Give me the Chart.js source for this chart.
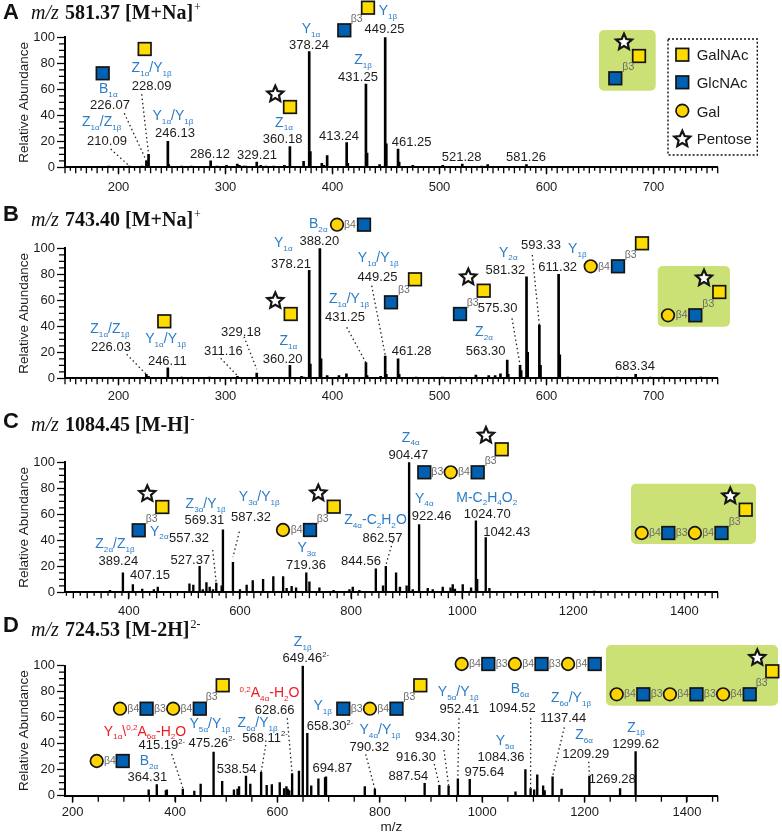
<!DOCTYPE html>
<html>
<head>
<meta charset="utf-8">
<title>MS/MS spectra</title>
<script src="https://cdn.jsdelivr.net/npm/chart.js@4"></script>
<style>
  html, body { margin: 0; padding: 0; background: #fff; }
  #page { position: relative; width: 782px; height: 835px; overflow: hidden; }
  canvas { position: absolute; left: 0; }
</style>
</head>
<body>
<div id="page"></div>
<script>
// peaks: m/z and relative abundance
var mzA = [191,210.09,222,226.07,228.09,246.13,247,259,268,286.12,292,301,311,313,317,319,329.21,333,338,345,355,360.18,373,378.24,379.3,390,392,395,413.24,414.3,431.25,432.3,444,449.25,450.3,461.25,462.3,475,503,521.28,539,545,581.26];
var abundanceA = [1,1,1,5,10,20,2,1,1,5,1,1.5,2.5,1.5,1,1,4,1.5,1,1,1.5,16,4.5,89,12,3,1.5,9,19,3,64,11,2,100,18,14,4,1.5,1.5,2.5,1,2,2];

var mzB = [226.03,228,246.11,259,285,311.16,329.18,360.2,371,373,378.21,379.3,388.2,389.3,395,406,413,431.25,432.3,445,449.25,450.3,461.28,462.3,478,503,519,534,546,552,557,563.3,564.3,575.3,576.3,581.32,582.4,593.33,594.4,611.32,612.4,620,666,683.34,697,708,744];
var abundanceB = [3,1.5,8,1,1,1.5,4,10,1.5,1,83,11,100,15,2,2,3.5,12,2,1.5,17,3,15,3,1,1,1,2.5,2,2,3.5,14,3,10,6,78,20,41,10,80,18,1,1,3,1,1,1];

var mzC = [366,389.24,407.15,424,445,452,509,516,527.37,533,539.6,545.5,551.5,557.32,567,569.31,587.32,600,612,623,641.6,660,677.7,684,693,701,719.36,725,743,768.5,797,803,815,844.56,857.5,862.57,881,888,900,904.47,911,922.46,938,947,965,979,983,987,1001,1016,1024.7,1027,1042.43,1049,1238];
var abundanceC = [1.5,15,6,2.5,2,4,6.5,5.5,20,2,7.5,4,2,7,5,48,23,2,5.5,9,10,12,12,3,4.5,3.5,15,8,3.5,1.5,2,4,1.5,18,5,20,15,4,5,100,2,52,3,2,4,3.5,6,2.5,6,3.5,55,10,42,3,1];

var mzD = [348.5,364.31,382,384,415.19,437.6,450,475.26,492,515,522,525,538.54,547,568.11,579,589,604.5,613,617.5,620,623,628.66,642,649.46,658.3,666,680,693,694.87,770.6,790.32,887.54,916.3,934.3,952.41,975.64,1065,1084.36,1094.52,1101.5,1107.5,1119,1122,1137.44,1155,1209.29,1269.28,1299.62];
var abundanceD = [4.5,8.5,4,4.5,5,3.5,9,33.5,11,4.5,5,7,15,9,18,8,8.5,10,5.5,7,5,4,17,19,100,48,7.5,13,14,14.5,7,5,9.5,8,7.5,13,12.5,3,20,5.5,4.5,16,7.5,4,14.5,5,15,5.5,34];

// title text
var titleIons = ['581.37 [M+Na]', '743.40 [M+Na]', '1084.45 [M-H]', '724.53 [M-2H]'];
var titleCharges = ['+', '+', '-', '2-'];
var panelLetters = ['A', 'B', 'C', 'D'];
var legendNames = ['GalNAc', 'GlcNAc', 'Gal', 'Pentose'];

var BLUE = '#2a7cc7', RED = '#ed1c24', INK = '#1c1c1c', GREY = '#6a6a6a';

// text on the figure: [markup, centre x, baseline y, colour]
var labelsA = [
  ['Y_{1α}',311,33,BLUE],['378.24',309,48.7],['Y_{1β}',388,15,BLUE],['449.25',384.5,33],['Z_{1β}',363,64,BLUE],['431.25',358,81],
  ['413.24',339,140],['461.25',411.7,146],['521.28',461.7,160.7],['581.26',526,160.7],['329.21',257,159],['286.12',210,158],
  ['Z_{1α}',284,126.7,BLUE],['360.18',282.7,143],['Y_{1α}/Y_{1β}',173,120,BLUE],['246.13',175,137],['Z_{1α}/Z_{1β}',101.7,126,BLUE],
  ['210.09',107,145],['B_{1α}',108.3,93.3,BLUE],['226.07',110,108.7],['Z_{1α}/Y_{1β}',151.7,72,BLUE],['228.09',151.7,90]
];
var labelsB = [
  ['B_{2α}',318.3,228.3,BLUE],['388.20',319.3,245],['Y_{1α}',283.3,247.3,BLUE],['378.21',291,268.3],['Y_{1α}/Y_{1β}',378.3,262,BLUE],['449.25',377.5,280.7],
  ['Z_{1α}/Y_{1β}',349,303.3,BLUE],['431.25',345,320.7],['461.28',411.7,355],['Z_{1α}',288.3,345,BLUE],['360.20',282.7,363.3],['329.18',241,336],
  ['311.16',223.3,355],['246.11',167.3,365],['Y_{1α}/Y_{1β}',165.7,343.3,BLUE],['Z_{1α}/Z_{1β}',110,333.3,BLUE],['226.03',111,351],
  ['575.30',497.7,311.7],['Z_{2α}',484,336,BLUE],['563.30',485.7,355],['Y_{2α}',508.3,256.7,BLUE],['581.32',505.3,274],['593.33',541,249],
  ['Y_{1β}',577.3,253.3,BLUE],['611.32',557.7,271],['683.34',635,370]
];
var labelsC = [
  ['Y_{2α}',159.3,535.7,BLUE],['557.32',189,542.3],['Z_{2α}/Z_{1β}',115,548.3,BLUE],['389.24',118.3,565],['407.15',150,579],['527.37',190.3,563.7],
  ['Z_{3α}/Y_{1β}',205.7,508.3,BLUE],['569.31',204.3,524],['Y_{3α}/Y_{1β}',259.3,501,BLUE],['587.32',251,520.7],['Y_{3α}',306.7,552.3,BLUE],['719.36',306,569.3],
  ['844.56',361,565],['Z_{4α}-C_{2}H_{2}O',375.5,524,BLUE],['862.57',382.5,541.7],['Z_{4α}',410.7,441.7,BLUE],['904.47',408.3,459],['Y_{4α}',424.3,502.7,BLUE],
  ['922.46',431.7,520],['M-C_{2}H_{4}O_{2}',486.7,501.7,BLUE],['1024.70',487.3,518.3],['1042.43',506.7,535.7]
];
var labelsD = [
  ['Z_{1β}',302.7,646,BLUE],['649.46^{2-}',305.8,662.3],['^{0,2}A_{4α}-H_{2}O',269.5,697.3,RED],['628.66',274.7,714.3],['Y_{1β}',322.7,710,BLUE],['658.30^{2-}',330,730],
  ['Y_{4α}/Y_{1β}',380,734,BLUE],['790.32',369.3,750.7],['694.87',332.3,771.7],['538.54',236.7,772.7],['568.11^{2-}',265,741.7],['Z_{6α}/Y_{1β}',257.7,727.3,BLUE],
  ['Y_{5α}/Y_{1β}',210,728.3,BLUE],['475.26^{2-}',211.7,746.7],['Y_{1α}\\^{0,2}A_{6α}-H_{2}O',145,735.7,RED],['415.19^{2-}',161.7,749.3],['B_{2α}',149,765,BLUE],['364.31',147.3,781],
  ['Y_{5α}/Y_{1β}',458.3,696,BLUE],['952.41',459.3,712.7],['934.30',435,740.7],['916.30',416,760.7],['887.54',408.3,780],['975.64',484.3,776],['Y_{5α}',505,745,BLUE],
  ['1084.36',501,760.7],['B_{6α}',520,693.3,BLUE],['1094.52',512.3,711.7],['Z_{6α}/Y_{1β}',571,702.3,BLUE],['1137.44',563.3,722.3],['Z_{6α}',584,739,BLUE],
  ['1209.29',585.7,758.3],['1269.28',612.3,783.3],['Z_{1β}',636,731.7,BLUE],['1299.62',635.7,747.7]
];

// dotted leaders: start x, start y on the page, then the peak it points at (m/z, abundance)
var leadersA = [[110.7,149,210.09,1],[124.3,113.3,226.07,5],[141.7,94.3,228.09,10]];
var leadersB = [[126.7,354.3,226.03,3],[220.7,358.3,311.16,2],[244,336.7,329.18,7],[346.7,327.3,431.25,12],[371.7,285.7,449.25,18],[512,318.3,575.3,10],[532.3,255,593.33,41]];
var leadersC = [[212.7,550,557.32,7],[239.3,531.7,587.32,27],[392.7,541.7,862.57,21]];
var leadersD = [[171.7,754,415.19,6],[265.7,745,568.11,18],[287.3,718.3,628.66,17],[365.7,754.3,790.32,5],[434.3,764,916.3,8],[444,750,934.3,8],[459,718.3,952.41,14],[530.7,718.3,1094.52,6],[564.3,727.3,1137.44,15],[588.7,761.7,1209.29,16]];

// sugar symbols: [kind, x, y]  N GlcNAc, A GalNAc, G Gal, P pentose; b = linkage text
var row = function (y, start, items) {
  return items.map(function (k, i) { return [k, start + i * 13.3, y + (k.charAt(0) === 'b' ? 3 : 0)]; });
};
var glycansA = [
  ['N',102.7,73.3],['A',144.7,49],['P',275.3,93.7],['A',290,107],['N',344.3,30.3],['b3',356.7,21.7],['A',368,7.7]
];
var glycansB = [
  ['G',337,224.7],['b4',350,227.7],['N',364,224.7],['P',275.3,300.3],['A',290.7,314],['A',164.3,321.3],
  ['N',391,302.3],['b3',404,293],['A',415,279.3],['P',468.3,276.7],['A',483.7,290.7],['N',460,314],['b3',472.7,305.7],
  ['G',590.7,266.3],['b4',604,269.7],['N',618,266.3],['b3',630.7,258.3],['A',642,243.3]
];
var glycansC = [
  ['P',147.3,493.3],['A',162.3,507],['N',138.7,530.3],['b3',151.7,522.3],
  ['P',318.3,492.7],['A',333.7,506.7],['N',310,530],['b3',322.7,522.3],['G',283,530],['b4',296.7,533],
  ['P',486,435],['A',501.7,449.3],['N',477.7,472.3],['b3',490.7,464.3],['G',450.7,472.3],['b4',464,475.3],['N',424.3,472.3],['b3',437.3,475.3]
];
var glycansD = [
  ['G',96.7,761],['b4',110,764],['N',122.7,761]
].concat(row(708.7, 120, ['G','b4','N','b3','G','b4','N'])).concat([
  ['b3',211.7,700],['A',222.7,685.3]
]).concat(row(708.7, 343.3, ['N','b3','G','b4','N'])).concat([
  ['b3',409.3,700],['A',420.3,685.3]
]).concat(row(664, 461.7, ['G','b4','N','b3','G','b4','N','b3','G','b4','N']));

// the pale green boxes with the intact glycan: x, y, w, h, then symbols
var boxesA = [[599,30,56.7,60.7,[['P',624,41.7],['A',639,56],['N',615.3,78.3],['b3',628.3,70]]]];
var boxesB = [[657.7,266,72.3,60.7,[['P',704,277.7],['A',719.3,292],['G',668,315.3],['b4',681.7,318.3],['N',695.3,315.3],['b3',708.3,306.7]]]];
var boxesC = [[631,483.7,125,60.3,[['P',730.3,495.7],['A',745.7,509.7]].concat(row(533,641.7,['G','b4','N','b3','G','b4','N'])).concat([['b3',734.7,525]])]];
var boxesD = [[606,645,172,60.7,[['P',757.3,657.3],['A',772.3,671.3]].concat(row(694.3,616.7,['G','b4','N','b3','G','b4','N','b3','G','b4','N'])).concat([['b3',761.7,686]])]];

function drawSymbol(ctx, kind, x, y) {
  ctx.save();
  if (kind === 'b3' || kind === 'b4') {
    ctx.fillStyle = GREY;
    ctx.font = '10.5px "Liberation Sans"';
    ctx.textAlign = 'center';
    ctx.textBaseline = 'alphabetic';
    ctx.fillText('β' + kind.charAt(1), x, y);
    ctx.restore();
    return;
  }
  ctx.strokeStyle = '#141414';
  ctx.lineWidth = 1.7;
  if (kind === 'N' || kind === 'A') {
    ctx.fillStyle = kind === 'N' ? '#0061b2' : '#ffdc00';
    ctx.fillRect(x - 6.3, y - 6.3, 12.6, 12.6);
    ctx.strokeRect(x - 6.3, y - 6.3, 12.6, 12.6);
  } else if (kind === 'G') {
    ctx.fillStyle = '#ffd400';
    ctx.beginPath();
    ctx.arc(x, y, 6.3, 0, Math.PI * 2);
    ctx.fill();
    ctx.stroke();
  } else {
    ctx.fillStyle = '#fff';
    ctx.lineWidth = 2.2;
    ctx.lineJoin = 'miter';
    ctx.beginPath();
    for (var i = 0; i < 10; i++) {
      var r = i % 2 ? 3.9 : 8.4;
      var a = -Math.PI / 2 + i * Math.PI / 5;
      ctx.lineTo(x + r * Math.cos(a), y + 0.5 + r * Math.sin(a));
    }
    ctx.closePath();
    ctx.fill();
    ctx.stroke();
  }
  ctx.restore();
}

// very small markup: _{sub} and ^{sup}
function parseRich(str) {
  var out = [], re = /([_^])\{([^}]*)\}|([^_^]+)/g, m;
  while ((m = re.exec(str))) {
    if (m[1]) out.push({ t: m[2], mode: m[1] });
    else out.push({ t: m[3], mode: '' });
  }
  return out;
}

function drawRich(ctx, str, cx, y, color, size) {
  var parts = parseRich(str), total = 0;
  parts.forEach(function (p) {
    p.size = p.mode ? size * 0.58 : size;
    ctx.font = p.size + 'px "Liberation Sans"';
    p.w = ctx.measureText(p.t).width;
    total += p.w;
  });
  var x = cx - total / 2;
  ctx.textAlign = 'left';
  ctx.textBaseline = 'alphabetic';
  ctx.fillStyle = color;
  parts.forEach(function (p) {
    ctx.font = p.size + 'px "Liberation Sans"';
    var dy = p.mode === '_' ? 3.5 : p.mode === '^' ? -5.5 : 0;
    ctx.fillText(p.t, x, y + dy);
    x += p.w;
  });
}

function drawTitle(ctx, p) {
  ctx.textAlign = 'left';
  ctx.textBaseline = 'alphabetic';
  ctx.fillStyle = '#111';
  ctx.font = 'bold 22px "Liberation Sans"';
  ctx.fillText(p.letter, 3, p.letterY);
  ctx.font = 'italic 20px "Liberation Serif"';
  ctx.fillText('m/z', 31, p.titleY);
  ctx.font = 'bold 20px "Liberation Serif"';
  ctx.fillText(p.ion, 65, p.titleY);
  var w = ctx.measureText(p.ion).width;
  ctx.font = '12px "Liberation Serif"';
  ctx.fillText(p.charge, 65 + w + 1, p.titleY - 8);
}

function drawLegend(ctx) {
  ctx.save();
  ctx.strokeStyle = '#111';
  ctx.lineWidth = 1.4;
  ctx.setLineDash([2, 2]);
  ctx.strokeRect(668, 39, 89.3, 116);
  ctx.restore();
  var kinds = ['A', 'N', 'G', 'P'], ys = [54.7, 82.3, 110.7, 138.7], bases = [60.3, 88, 116.7, 144.3];
  legendNames.forEach(function (name, i) {
    drawSymbol(ctx, kinds[i], 682.3, ys[i]);
    ctx.fillStyle = INK;
    ctx.font = '15px "Liberation Sans"';
    ctx.textAlign = 'left';
    ctx.fillText(name, 696.7, bases[i]);
  });
}

// small in-between ticks the axis itself has no option for
function drawExtraTicks(chart, p) {
  var ctx = chart.ctx, xs = chart.scales.x, ys = chart.scales.y;
  var y0 = ys.getPixelForValue(0), x0 = xs.left;
  ctx.save();
  ctx.strokeStyle = '#000';
  ctx.lineWidth = 1.3;
  ctx.beginPath();
  function xTick(step, len) {
    for (var v = Math.ceil(p.xMin / step) * step; v <= p.xMax; v += step) {
      var px = xs.getPixelForValue(v);
      ctx.moveTo(px, y0);
      ctx.lineTo(px, y0 + len);
    }
  }
  if (p.minorStep) xTick(p.minorStep, 3.5);
  xTick(p.midStep, 6);
  var endPx = xs.getPixelForValue(p.xMax);
  ctx.moveTo(endPx, y0);
  ctx.lineTo(endPx, y0 + 6);
  for (var v = 5; v < 100; v += 5) {
    if (v % 20 === 0) continue;
    var py = ys.getPixelForValue(v);
    ctx.moveTo(x0, py);
    ctx.lineTo(x0 - 6, py);
  }
  ctx.stroke();
  ctx.restore();
}

function overlayPlugin(p) {
  return {
    id: 'overlay' + p.letter,
    afterDraw: function (chart) {
      var ctx = chart.ctx, xs = chart.scales.x, ys = chart.scales.y;
      drawExtraTicks(chart, p);
      ctx.save();
      ctx.translate(0, -p.top);
      p.boxes.forEach(function (b) {
        ctx.fillStyle = '#cbe175';
        ctx.beginPath();
        ctx.roundRect(b[0], b[1], b[2], b[3], 5);
        ctx.fill();
        b[4].forEach(function (s) { drawSymbol(ctx, s[0], s[1], s[2]); });
      });
      p.glycans.forEach(function (s) { drawSymbol(ctx, s[0], s[1], s[2]); });
      ctx.save();
      ctx.strokeStyle = '#222';
      ctx.lineWidth = 1.3;
      ctx.setLineDash([1.5, 2.8]);
      p.leaders.forEach(function (l) {
        ctx.beginPath();
        ctx.moveTo(l[0], l[1]);
        ctx.lineTo(xs.getPixelForValue(l[2]), ys.getPixelForValue(l[3]) + p.top);
        ctx.stroke();
      });
      ctx.restore();
      p.labels.forEach(function (l) {
        drawRich(ctx, l[0], l[1], l[2], l[3] || INK, l[3] ? 14 : 13);
      });
      drawTitle(ctx, p);
      if (p.letter === 'A') drawLegend(ctx);
      ctx.restore();
    }
  };
}

function makePanel(p) {
  var canvas = document.createElement('canvas');
  canvas.width = 782;
  canvas.height = p.height;
  canvas.style.top = p.top + 'px';
  document.getElementById('page').appendChild(canvas);

  var points = p.mz.map(function (m, i) { return { x: m, y: p.abundance[i] }; });

  new Chart(canvas.getContext('2d'), {
    type: 'bar',
    data: { datasets: [{ data: points, backgroundColor: '#000', barThickness: p.barWidth }] },
    plugins: [overlayPlugin(p)],
    options: {
      responsive: false,
      animation: false,
      parsing: false,
      normalized: true,
      layout: { padding: { top: p.y100 - p.top, right: 782 - 717.7, left: 0, bottom: 0 } },
      plugins: { legend: { display: false }, tooltip: { enabled: false } },
      scales: {
        x: {
          type: 'linear',
          offset: false,
          min: p.xMin,
          max: p.xMax,
          border: { color: '#000', width: 2 },
          grid: { drawOnChartArea: false, offset: false, tickLength: 7, tickColor: '#000', tickWidth: 1.3 },
          title: { display: p.xTitle, text: 'm/z', color: INK, font: { size: 13.5 }, padding: { top: -2, bottom: 0 } },
          ticks: {
            color: INK,
            font: { size: 13 },
            padding: p.tickPad,
            autoSkip: false,
            maxRotation: 0,
            minRotation: 0,
            callback: function (value) { return String(value); }
          },
          afterBuildTicks: function (axis) {
            var list = [];
            for (var v = Math.ceil(p.xMin / p.labelStep) * p.labelStep; v <= p.xMax; v += p.labelStep) list.push({ value: v });
            axis.ticks = list;
          },
          afterFit: function (axis) { axis.height = p.top + p.height - p.y0; }
        },
        y: {
          min: 0,
          max: 100,
          border: { color: '#000', width: 2 },
          grid: { drawOnChartArea: false, tickLength: 8, tickColor: '#000', tickWidth: 1.3 },
          title: { display: true, text: 'Relative Abundance', color: INK, font: { size: 13.5 }, padding: { top: 16, bottom: 0 } },
          ticks: { stepSize: 20, color: INK, font: { size: 13 }, padding: 2 },
          afterFit: function (axis) { axis.width = 65; }
        }
      }
    }
  });
}

Chart.defaults.font.family = '"Liberation Sans", Arial, sans-serif';

var panels = [
  { letter: panelLetters[0], ion: titleIons[0], charge: titleCharges[0], mz: mzA, abundance: abundanceA, labels: labelsA, leaders: leadersA, glycans: glycansA, boxes: boxesA,
    top: 0, height: 200, y100: 37.3, y0: 167.3, letterY: 19, titleY: 19, xMin: 150, xMax: 760, labelStep: 100, midStep: 10, minorStep: 5, tickPad: 5, barWidth: 2, xTitle: false },
  { letter: panelLetters[1], ion: titleIons[1], charge: titleCharges[1], mz: mzB, abundance: abundanceB, labels: labelsB, leaders: leadersB, glycans: glycansB, boxes: boxesB,
    top: 195, height: 215, y100: 248.3, y0: 378.3, letterY: 221, titleY: 225.7, xMin: 150, xMax: 760, labelStep: 100, midStep: 10, minorStep: 5, tickPad: 3, barWidth: 2, xTitle: false },
  { letter: panelLetters[2], ion: titleIons[2], charge: titleCharges[2], mz: mzC, abundance: abundanceC, labels: labelsC, leaders: leadersC, glycans: glycansC, boxes: boxesC,
    top: 405, height: 220, y100: 462.3, y0: 592.3, letterY: 427.7, titleY: 431, xMin: 285, xMax: 1460, labelStep: 200, midStep: 25, minorStep: 12.5, tickPad: 4, barWidth: 1.7, xTitle: false },
  { letter: panelLetters[3], ion: titleIons[3], charge: titleCharges[3], mz: mzD, abundance: abundanceD, labels: labelsD, leaders: leadersD, glycans: glycansD, boxes: boxesD,
    top: 610, height: 225, y100: 665.7, y0: 795.7, letterY: 631.7, titleY: 636, xMin: 185, xMax: 1460, labelStep: 200, midStep: 50, minorStep: 0, tickPad: 2, barWidth: 1.7, xTitle: true }
];

panels.forEach(makePanel);
</script>
</body>
</html>
